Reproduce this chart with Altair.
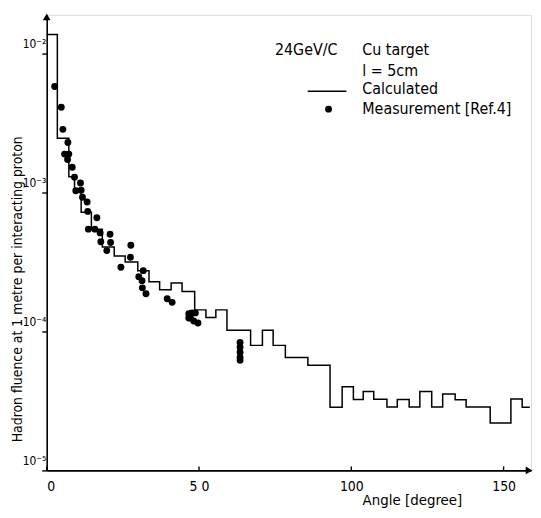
import altair as alt
import pandas as pd

FONT = "DejaVu Sans Condensed, Liberation Sans Narrow, DejaVu Sans"

# Calculated (histogram) - bin left edges (deg) and values; last point closes the final bin
step_x = [0, 3.49, 7.27, 9.13, 11.31, 14.67, 18.26, 22.17, 25.76, 29.9, 33.58, 37.07,
          40.85, 44.44, 48.58, 52.27, 55.53, 59.18, 66.94, 70.82, 74.34, 78.35, 85.75,
          93.02, 97.0, 100.68, 103.91, 107.37, 111.7, 115.1, 119.0, 122.5, 126.4, 130.0,
          134.1, 137.7, 145.6, 152.4, 156.1, 158.6]
step_y = [1.37e-2, 2.46e-3, 1.3e-3, 1.03e-3, 7.2e-4, 5.45e-4, 4.05e-4, 3.49e-4, 3.16e-4,
          2.74e-4, 2.28e-4, 2.0e-4, 2.23e-4, 1.94e-4, 1.43e-4, 1.26e-4, 1.43e-4, 1.02e-4,
          7.94e-5, 1.02e-4, 7.94e-5, 6.5e-5, 5.71e-5, 2.85e-5, 4.0e-5, 3.24e-5, 3.7e-5,
          3.25e-5, 2.86e-5, 3.24e-5, 2.86e-5, 3.7e-5, 2.86e-5, 3.55e-5, 3.23e-5, 2.86e-5,
          2.19e-5, 3.27e-5, 2.85e-5, 2.85e-5]

# Measurement [Ref.4]
meas_x = [2.61, 4.79, 5.31, 6.95, 5.87, 7.27, 6.85, 8.38, 9.13, 9.55, 11.09, 11.31, 11.74,
          13.27, 13.47, 16.47, 13.69, 15.81, 17.54, 17.77, 20.8, 20.97, 19.73, 27.62, 27.49,
          24.36, 31.69, 30.23, 31.3, 31.4, 32.6, 39.55, 41.18, 46.63, 47.7, 48.8, 46.63,
          47.18, 48.26, 49.66, 63.48, 63.48, 63.48, 63.48, 63.48]
meas_y = [5.8e-3, 4.11e-3, 2.85e-3, 2.29e-3, 1.89e-3, 1.89e-3, 1.73e-3, 1.52e-3, 1.29e-3,
          1.03e-3, 1.17e-3, 1.04e-3, 9.24e-4, 8.54e-4, 7.31e-4, 6.58e-4, 5.45e-4, 5.45e-4,
          5.12e-4, 4.42e-4, 5.01e-4, 4.37e-4, 3.82e-4, 4.17e-4, 3.42e-4, 2.9e-4, 2.74e-4,
          2.48e-4, 2.32e-4, 2.06e-4, 1.87e-4, 1.72e-4, 1.62e-4, 1.34e-4, 1.36e-4, 1.36e-4,
          1.25e-4, 1.25e-4, 1.19e-4, 1.15e-4, 8.34e-5, 7.69e-5, 7.08e-5, 6.52e-5, 6.21e-5]

x_ticks = [0, 50, 100, 150]
y_ticks = [1e-5, 1e-4, 1e-3, 1e-2]

W, H = 488, 459

step_df = pd.DataFrame({"angle": step_x, "fluence": step_y})
meas_df = pd.DataFrame({"angle": meas_x, "fluence": meas_y})
tick_df = pd.DataFrame({"angle": x_ticks})

xscale = alt.Scale(domain=[0, 159], nice=False, zero=False)
yscale = alt.Scale(type="log", domain=[1e-5, 0.019], nice=False)

xaxis = alt.Axis(values=x_ticks, grid=False, ticks=False, domainColor="black", domainWidth=1.6,
                 labelFont=FONT, labelFontSize=14, labelColor="black", labelPadding=9,
                 labelExpr="datum.value == 50 ? '5 0' : datum.label",
                 title="Angle [degree]", titleFont=FONT, titleFontSize=15, titleFontWeight="normal",
                 titleColor="black", titleX=368, titleY=29, titleBaseline="middle", titleAlign="center")
yaxis = alt.Axis(values=y_ticks, grid=False, tickSize=5, tickColor="black", tickWidth=1.4,
                 domainColor="black", domainWidth=1.6,
                 labelFont=FONT, labelFontSize=12, labelColor="black", labelPadding=-4,
                 labelBaseline="bottom", labelOffset=-3,
                 labelExpr="'10⁻' + ['','¹','²','³','⁴','⁵'][round(-log(datum.value)/LN10)]",
                 title="Hadron fluence at 1 metre per interacting proton",
                 titleFont=FONT, titleFontSize=14, titleFontWeight="normal", titleColor="black",
                 titleX=-29, titleY=276, titleAngle=270, titleBaseline="middle", titleAlign="center")

step = alt.Chart(step_df).mark_line(interpolate="step-after", color="black", strokeWidth=1.5).encode(
    x=alt.X("angle:Q", scale=xscale, axis=xaxis),
    y=alt.Y("fluence:Q", scale=yscale, axis=yaxis),
)

pts = alt.Chart(meas_df).mark_circle(size=48, color="black", opacity=1).encode(
    x=alt.X("angle:Q", scale=xscale),
    y=alt.Y("fluence:Q", scale=yscale),
)

xt = alt.Chart(tick_df).mark_rule(color="black", strokeWidth=1.4).encode(
    x=alt.X("angle:Q", scale=xscale),
    y=alt.value(H),
    y2=alt.value(H - 4),
)

arrow_up = alt.Chart(pd.DataFrame({"a": [0]})).mark_point(
    shape="triangle-up", filled=True, color="black", opacity=1, size=60).encode(
    x=alt.value(0), y=alt.value(2))
arrow_right = alt.Chart(pd.DataFrame({"a": [0]})).mark_point(
    shape="triangle-right", filled=True, color="black", opacity=1, size=60).encode(
    x=alt.value(W - 2), y=alt.value(H))

ann_text = ["24GeV/C", "Cu target", "l =  5cm", "Calculated", "Measurement [Ref.4]"]
ann_x = [230, 318, 318, 318, 318]
ann_y = [35, 35, 57, 75, 95]
ann = alt.Chart(pd.DataFrame({"t": ann_text, "px": ann_x, "py": ann_y})).mark_text(
    align="left", baseline="middle", font=FONT, fontSize=16, color="black").encode(
    x=alt.X("px:Q", scale=None), y=alt.Y("py:Q", scale=None), text="t:N")

leg_line = alt.Chart(pd.DataFrame({"a": [0]})).mark_rule(color="black", strokeWidth=1.4).encode(
    x=alt.value(263), x2=alt.value(302), y=alt.value(77))
leg_dot = alt.Chart(pd.DataFrame({"a": [0]})).mark_circle(size=48, color="black", opacity=1).encode(
    x=alt.value(284), y=alt.value(95))

chart = alt.layer(step, pts, xt, arrow_up, arrow_right, ann, leg_line, leg_dot).properties(
    width=W, height=H,
    autosize=alt.AutoSizeParams(type="none"),
    padding={"left": 39, "top": 5, "right": 2, "bottom": 38},
).configure_view(stroke=None).configure(background="white")

chart.save("out.html", embed_options={"renderer": "svg", "actions": False})
